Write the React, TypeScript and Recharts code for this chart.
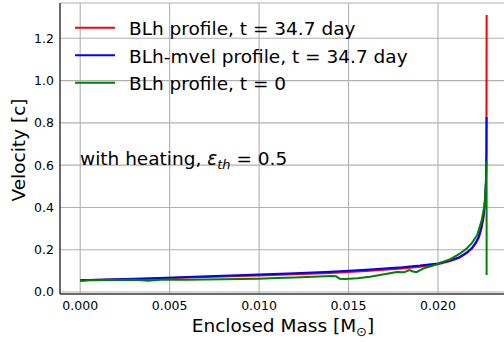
import React from "react";
import { LineChart, Line, XAxis, YAxis, CartesianGrid } from "recharts";

const FONT = "DejaVu Sans, sans-serif";

// axis ticks
const massTicks = [0, 0.005, 0.01, 0.015, 0.02];
const massMinorTicks = [
  -0.001, 0, 0.001, 0.002, 0.003, 0.004, 0.005, 0.006, 0.007, 0.008, 0.009, 0.01, 0.011, 0.012,
  0.013, 0.014, 0.015, 0.016, 0.017, 0.018, 0.019, 0.02, 0.021, 0.022, 0.023,
];
const velTicks = [0, 0.2, 0.4, 0.6, 0.8, 1.0, 1.2];
const velMinorTicks = [
  0, 0.05, 0.1, 0.15, 0.2, 0.25, 0.3, 0.35, 0.4, 0.45, 0.5, 0.55, 0.6, 0.65, 0.7, 0.75, 0.8,
  0.85, 0.9, 0.95, 1.0, 1.05, 1.1, 1.15, 1.2, 1.25, 1.3, 1.35,
];

// BLh profile, t = 34.7 day
const blhMass = [
  0, 0.002, 0.004, 0.006, 0.008, 0.01, 0.012, 0.014, 0.016, 0.018, 0.019, 0.02, 0.0207, 0.0212,
  0.0216, 0.0219, 0.0221, 0.02228, 0.02242, 0.02254, 0.02262, 0.02268, 0.02271, 0.02272,
];
const blhVel = [
  0.055, 0.059, 0.063, 0.068, 0.073, 0.078, 0.084, 0.09, 0.099, 0.111, 0.119, 0.131, 0.146, 0.162,
  0.183, 0.206, 0.228, 0.255, 0.295, 0.345, 0.405, 0.5, 0.64, 1.31,
];

// BLh-mvel profile, t = 34.7 day
const mvelMass = [
  0, 0.002, 0.004, 0.006, 0.008, 0.01, 0.012, 0.014, 0.016, 0.018, 0.019, 0.02, 0.0207, 0.0212,
  0.0216, 0.0219, 0.0221, 0.02228, 0.02242, 0.02254, 0.02262, 0.02268, 0.02271, 0.02272,
];
const mvelVel = [
  0.056, 0.06, 0.065, 0.071, 0.077, 0.083, 0.089, 0.096, 0.105, 0.117, 0.125, 0.135, 0.15, 0.165,
  0.186, 0.208, 0.232, 0.262, 0.305, 0.358, 0.42, 0.52, 0.65, 0.828,
];

// BLh profile, t = 0
const initMass = [
  0, 0.0005, 0.001, 0.0015, 0.002, 0.003, 0.0038, 0.0045, 0.005, 0.006, 0.007, 0.008, 0.009, 0.01,
  0.011, 0.012, 0.013, 0.0141, 0.0143, 0.0145, 0.0148, 0.0155, 0.0162, 0.017, 0.0177, 0.0181,
  0.0184, 0.0186, 0.0188, 0.0192, 0.0196, 0.0199, 0.0202, 0.0207, 0.0212, 0.0216, 0.0219, 0.0222,
  0.02245, 0.02258, 0.02265, 0.0227, 0.02272, 0.02272,
];
const initVel = [
  0.052, 0.056, 0.055, 0.058, 0.057, 0.058, 0.053, 0.058, 0.059, 0.058, 0.059, 0.06, 0.061, 0.063,
  0.066, 0.069, 0.072, 0.076, 0.075, 0.063, 0.061, 0.065, 0.072, 0.084, 0.095, 0.093, 0.104, 0.097,
  0.094, 0.112, 0.122, 0.13, 0.14, 0.155, 0.18, 0.205, 0.232, 0.27, 0.34, 0.4, 0.46, 0.55, 0.62,
  0.08,
];

const zip = (ms: number[], vs: number[]) => ms.map((m, i) => ({ m, v: vs[i] }));

const series = [
  { name: "BLh profile, t = 34.7 day", color: "#ff0000", data: zip(blhMass, blhVel) },
  { name: "BLh-mvel profile, t = 34.7 day", color: "#0000ff", data: zip(mvelMass, mvelVel) },
  { name: "BLh profile, t = 0", color: "#008000", data: zip(initMass, initVel) },
];

const X_DOMAIN: [number, number] = [-0.00113, 0.02386];
const Y_DOMAIN: [number, number] = [-0.0095, 1.367];
const tickStyle = { fontSize: 12.5, fill: "#000", fontFamily: FONT };

function LegendBox() {
  return (
    <g fontFamily={FONT} fontSize={18.5} fill="#000">
      {series.map((s, i) => (
        <g key={s.name}>
          <line x1={75} x2={115} y1={27.7 + i * 27.5} y2={27.7 + i * 27.5} stroke={s.color} strokeWidth={2} />
          <text x={129} y={35 + i * 27.5}>
            {s.name}
          </text>
        </g>
      ))}
    </g>
  );
}

export default function App() {
  return (
    <div style={{ position: "absolute", left: 0, top: 0, width: 504, height: 342, overflow: "hidden", background: "#fff" }}>
      <LineChart width={508} height={342} margin={{ top: 3, right: 1, bottom: 0, left: 0 }} style={{ fontFamily: FONT }}>
        <CartesianGrid xAxisId="main" yAxisId="main" stroke="#b0b0b0" strokeWidth={1.1} />
        <XAxis
          xAxisId="main"
          type="number"
          dataKey="m"
          domain={X_DOMAIN}
          allowDataOverflow
          ticks={massTicks}
          tickFormatter={(v: number) => v.toFixed(3)}
          tick={tickStyle}
          tickLine={false}
          tickSize={0}
          tickMargin={7}
          height={48}
          axisLine={{ stroke: "#000" }}
          label={{ value: "", position: "insideBottom" }}
        />
        <XAxis xAxisId="minor" type="number" domain={X_DOMAIN} allowDataOverflow ticks={massMinorTicks} tick={false} tickSize={3} mirror height={0} axisLine={false} tickLine={{ stroke: "#000" }} />
        <XAxis xAxisId="major" type="number" domain={X_DOMAIN} allowDataOverflow ticks={massTicks} tick={false} tickSize={5} mirror height={0} axisLine={false} tickLine={{ stroke: "#000" }} />
        <XAxis xAxisId="top" orientation="top" type="number" domain={X_DOMAIN} allowDataOverflow tick={false} tickLine={false} height={0} axisLine={{ stroke: "#000" }} />
        <YAxis
          yAxisId="main"
          type="number"
          domain={Y_DOMAIN}
          allowDataOverflow
          ticks={velTicks}
          tickFormatter={(v: number) => v.toFixed(1)}
          tick={tickStyle}
          tickLine={false}
          tickSize={0}
          tickMargin={6}
          width={60}
          axisLine={{ stroke: "#000" }}
        />
        <YAxis yAxisId="minor" type="number" domain={Y_DOMAIN} allowDataOverflow ticks={velMinorTicks} tick={false} tickSize={3} mirror width={0} axisLine={false} tickLine={{ stroke: "#000" }} />
        <YAxis yAxisId="major" type="number" domain={Y_DOMAIN} allowDataOverflow ticks={velTicks} tick={false} tickSize={5} mirror width={0} axisLine={false} tickLine={{ stroke: "#000" }} />
        <YAxis yAxisId="right" orientation="right" type="number" domain={Y_DOMAIN} allowDataOverflow tick={false} tickLine={false} width={0} axisLine={{ stroke: "#000" }} />
        {series.map((s) => (
          <Line
            key={s.name}
            xAxisId="main"
            yAxisId="main"
            data={s.data}
            dataKey="v"
            type="linear"
            stroke={s.color}
            strokeWidth={2}
            dot={false}
            activeDot={false}
            isAnimationActive={false}
          />
        ))}
        <LegendBox />
        <text x={80} y={165} fontFamily={FONT} fontSize={18.5} fill="#000">
          with heating,{" "}
          <tspan fontStyle="italic">ε</tspan>
          <tspan fontStyle="italic" fontSize={13} dy={4}>th</tspan>
          <tspan dy={-4}> = 0.5</tspan>
        </text>
        <text x={18} y={150} transform="rotate(-90 18 150)" textAnchor="middle" dominantBaseline="central" fontFamily={FONT} fontSize={18.5} fill="#000">
          Velocity [c]
        </text>
        <text x={283} y={332} textAnchor="middle" fontFamily={FONT} fontSize={18.5} fill="#000">
          Enclosed Mass [M<tspan fontSize={13} dy={4}>⊙</tspan>
          <tspan dy={-4}>]</tspan>
        </text>
      </LineChart>
    </div>
  );
}
